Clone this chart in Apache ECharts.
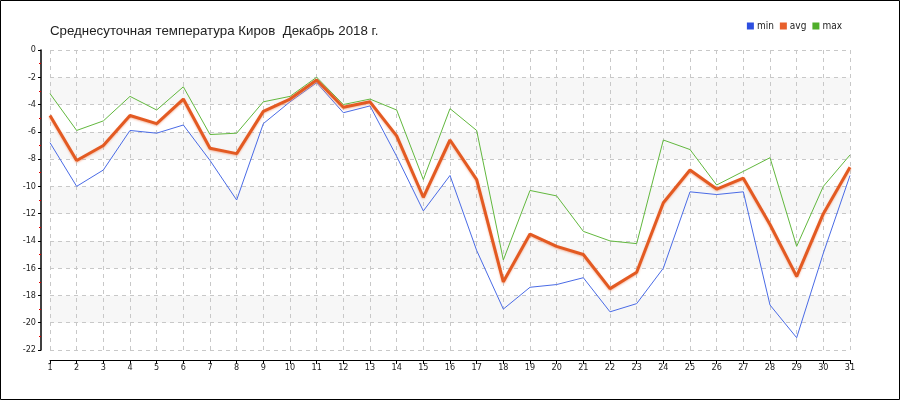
<!DOCTYPE html>
<html>
<head>
<meta charset="utf-8">
<script src="https://cdn.jsdelivr.net/npm/echarts@6/dist/echarts.min.js"></script>
<style>
html,body{margin:0;padding:0;background:#fff;}
#chart{width:900px;height:400px;}
</style>
</head>
<body>
<div id="chart"></div>
<script>
const days = ['1','2','3','4','5','6','7','8','9','10','11','12','13','14','15','16','17','18','19','20','21','22','23','24','25','26','27','28','29','30','31'];
const minTemp = [-6.8,-10.0,-8.8,-5.9,-6.1,-5.5,-8.1,-11.0,-5.4,-3.8,-2.4,-4.6,-4.1,-7.8,-11.8,-9.2,-14.7,-19.0,-17.4,-17.2,-16.7,-19.2,-18.6,-16.0,-10.4,-10.6,-10.4,-18.7,-21.1,-14.9,-9.2];
const avgTemp = [-4.8,-8.1,-7.0,-4.8,-5.4,-3.6,-7.2,-7.6,-4.5,-3.6,-2.2,-4.2,-3.8,-6.3,-10.8,-6.6,-9.5,-17.0,-13.5,-14.4,-15.0,-17.5,-16.3,-11.2,-8.8,-10.2,-9.4,-12.8,-16.6,-12.0,-8.6];
const maxTemp = [-3.2,-5.9,-5.2,-3.4,-4.4,-2.7,-6.2,-6.1,-3.8,-3.4,-2.0,-4.0,-3.6,-4.4,-9.5,-4.3,-5.9,-15.4,-10.3,-10.7,-13.3,-14.0,-14.2,-6.6,-7.3,-9.9,-8.9,-7.9,-14.4,-10.0,-7.7];
const titleText = 'Среднесуточная температура Киров  Декабрь 2018 г.';

const chart = echarts.init(document.getElementById('chart'));
chart.setOption({
  animation: false,
  backgroundColor: '#fff',
  title: {
    text: titleText,
    left: 45, top: 20,
    textStyle: {fontFamily: 'Liberation Sans', fontSize: 13.3, fontWeight: 'normal', color: '#222'}
  },
  legend: {
    right: 53, top: 16,
    icon: 'rect', itemWidth: 7, itemHeight: 7, itemGap: 6,
    textStyle: {fontFamily: 'DejaVu Sans Condensed', fontSize: 10, color: '#222', padding: [0,0,2,-2]},
    data: ['min','avg','max']
  },
  graphic: [{
    type: 'rect', silent: true, z: 100,
    shape: {x: 0.5, y: 0.5, width: 899, height: 399},
    style: {fill: 'none', stroke: '#000', lineWidth: 1}
  }],
  grid: {left: 50, right: 50, top: 50, bottom: 50, containLabel: false},
  xAxis: {
    type: 'category', data: days, boundaryGap: false, offset: 10,
    axisLine: {show: true, onZero: false, lineStyle: {color: '#000', width: 1}},
    axisTick: {show: true, length: 4, interval: 0, lineStyle: {color: '#000'}},
    axisLabel: {interval: 0, margin: 3, fontFamily: 'DejaVu Sans Condensed', fontSize: 9, color: '#222'},
    splitLine: {show: true, interval: 0, lineStyle: {color: '#c8c8c8', type: [4,4], width: 1}}
  },
  yAxis: {
    type: 'value', min: -22, max: 0, interval: 2, offset: 9,
    axisLine: {show: true, onZero: false, lineStyle: {color: '#000', width: 1.5}},
    axisTick: {show: true, length: 3, lineStyle: {color: '#000'}},
    minorTick: {show: true, splitNumber: 2, length: 2, lineStyle: {color: '#e00000'}},
    axisLabel: {margin: 5, fontFamily: 'DejaVu Sans Condensed', fontSize: 9, color: '#222'},
    splitLine: {show: true, lineStyle: {color: '#c8c8c8', type: [4,4], width: 1}},
    splitArea: {show: true, areaStyle: {color: ['#ffffff', '#f7f7f7']}}
  },
  series: [
    {name: 'min', type: 'line', data: minTemp, symbol: 'none', z: 2,
     itemStyle: {color: '#2d4fe0'},
     lineStyle: {color: '#4a6be6', width: 1}},
    {name: 'max', type: 'line', data: maxTemp, symbol: 'none', z: 3,
     itemStyle: {color: '#4fae2a'},
     lineStyle: {color: '#62b83e', width: 1}},
    {name: 'avg', type: 'line', data: avgTemp, symbol: 'none', z: 4,
     itemStyle: {color: '#e8602c'},
     lineStyle: {color: '#e35a22', width: 3, shadowColor: 'rgba(240,140,100,0.6)', shadowBlur: 2, shadowOffsetY: 1}}
  ]
});
</script>
</body>
</html>
